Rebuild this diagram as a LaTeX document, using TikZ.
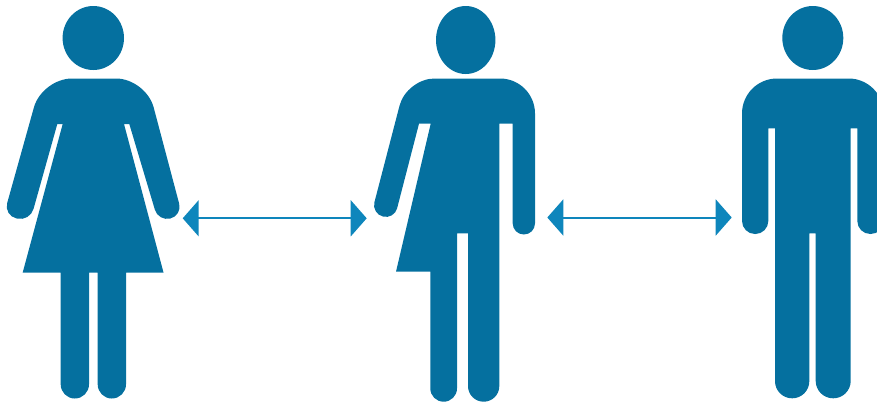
\documentclass[tikz,border=0pt]{standalone}
\usetikzlibrary{arrows.meta}
\definecolor{figblue}{HTML}{05709F}
\definecolor{arrowblue}{HTML}{0E86BC}
\tikzset{
  figure/.style={fill=figblue,draw=none},
  link/.style={draw=arrowblue,line width=2pt,{Triangle[length=16pt,width=36pt]}-{Triangle[length=16pt,width=36pt]},shorten <=0pt,shorten >=0pt},
}
\begin{document}
\begin{tikzpicture}[x=1pt,y=-1pt]
\useasboundingbox (0,0) rectangle (877,402);
\clip (0,0) rectangle (877,402);
% woman
\fill[figure] (93.3,38) ellipse [x radius=30.7,y radius=32];
\fill[figure] (93.5,78.5)
  [rounded corners=30pt] -- (146,78.5) [rounded corners=12.2pt] -- (182.3,215.5) -- (158.4,221.5)
  [sharp corners] -- (129.3,124) -- (124,124) -- (163.5,272.5) -- (126,272.5)
  [rounded corners=14.1pt] -- (126,398.5) -- (97.7,398.5)
  [sharp corners] -- (97.7,272.5) -- (89,272.5)
  [rounded corners=14.1pt] -- (89,398.5) -- (60.7,398.5)
  [sharp corners] -- (60.7,272.5) -- (22.7,272.5) -- (62.7,124) -- (57.3,124)
  [rounded corners=13pt] -- (30,221.5) -- (3.7,215.5)
  [rounded corners=30pt] -- (42,78.5) [sharp corners] -- cycle;
% middle
\fill[figure] (465.7,40) ellipse [x radius=29.7,y radius=34];
\fill[figure] (465,78.5)
  [rounded corners=35pt] -- (535,78.5) [rounded corners=11.1pt] -- (535,234.5) -- (512.7,234.5)
  [sharp corners] -- (512.7,123.7) -- (499.3,123.7)
  [rounded corners=15.6pt] -- (499.3,401.7) -- (468,401.7)
  [sharp corners] -- (468,233.3) -- (457,233.3)
  [rounded corners=13.3pt] -- (457,401.7) -- (430.3,401.7)
  [sharp corners] -- (430.3,271.7) -- (396,271.7) -- (430.7,123.7) -- (419,123.7)
  [rounded corners=11.6pt] -- (394.2,219.5) -- (371.5,213.5)
  [rounded corners=28pt] -- (406.6,78.5) [sharp corners] -- cycle;
% man
\fill[figure] (812.8,38) ellipse [x radius=30.5,y radius=32];
\fill[figure] (812.8,78.5)
  [rounded corners=35pt] -- (883.6,78.5) [rounded corners=13pt] -- (883.6,234) -- (857.3,234)
  [sharp corners] -- (857.3,128.3) -- (850.7,128.3)
  [rounded corners=17.4pt] -- (850.7,398.3) -- (815.7,398.3)
  [sharp corners] -- (815.7,233.3) -- (809.3,233.3)
  [rounded corners=17.1pt] -- (809.3,398.3) -- (775,398.3)
  [sharp corners] -- (775,128.3) -- (768.3,128.3)
  [rounded corners=13pt] -- (768.3,234) -- (742,234)
  [rounded corners=35pt] -- (742,78.5) [sharp corners] -- cycle;
% arrows
\coordinate (a1) at (182.7,218.3);
\coordinate (b1) at (366.7,218.3);
\coordinate (a2) at (547.3,217.5);
\coordinate (b2) at (731.7,217.5);
\draw[link] (a1) -- (b1);
\draw[link] (a2) -- (b2);
\end{tikzpicture}
\end{document}
